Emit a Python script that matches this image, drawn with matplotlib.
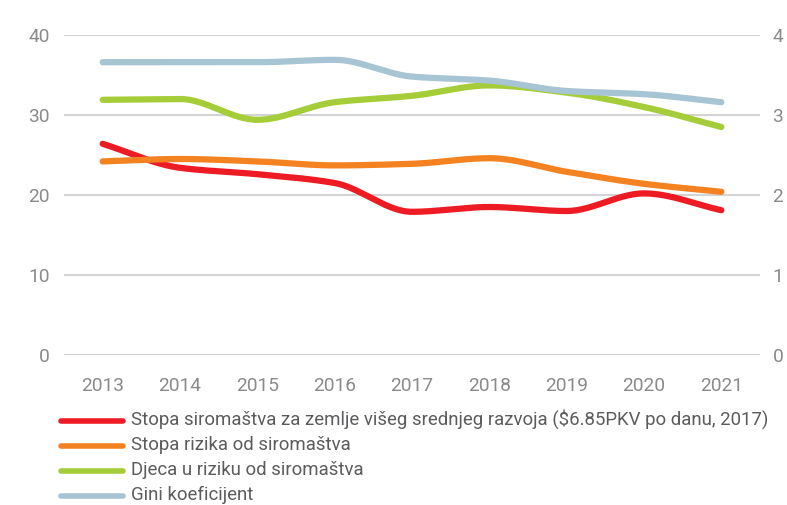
import numpy as np
import matplotlib
matplotlib.use("Agg")
import matplotlib.pyplot as plt
from matplotlib.lines import Line2D

plt.rcParams['font.family'] = ['Roboto', 'DejaVu Sans']

years = [2013, 2014, 2015, 2016, 2017, 2018, 2019, 2020, 2021]
poverty_685 = [26.4, 23.4, 22.6, 21.5, 17.9, 18.5, 18.0, 20.2, 18.1]
risk_poverty = [24.2, 24.5, 24.2, 23.7, 23.9, 24.6, 22.9, 21.4, 20.4]
children_risk = [31.9, 32.0, 29.4, 31.6, 32.4, 33.7, 32.8, 31.0, 28.5]
gini = [36.6, 36.6, 36.6, 36.9, 34.8, 34.3, 33.0, 32.6, 31.6]

labels = ["Stopa siromaštva za zemlje višeg srednjeg razvoja ($6.85PKV po danu, 2017)",
          "Stopa rizika od siromaštva",
          "Djeca u riziku od siromaštva",
          "Gini koeficijent"]
series = [poverty_685, risk_poverty, children_risk, gini]
colors = ["#ED1C24", "#F58220", "#A5CD39", "#A7C4D4"]
left_ticks = [0, 10, 20, 30, 40]
right_ticks = [0, 1, 2, 3, 4]


def monotone(x, y, n=40):
    x = np.asarray(x, float); y = np.asarray(y, float)
    h = np.diff(x); d = np.diff(y) / h
    m = np.zeros_like(y)
    m[0] = d[0]; m[-1] = d[-1]
    for i in range(1, len(y) - 1):
        if d[i - 1] * d[i] <= 0:
            m[i] = 0
        else:
            w1 = 2 * h[i] + h[i - 1]; w2 = h[i] + 2 * h[i - 1]
            m[i] = (w1 + w2) / (w1 / d[i - 1] + w2 / d[i])
    xs, ys = [], []
    for i in range(len(x) - 1):
        t = np.linspace(0, 1, n, endpoint=(i == len(x) - 2))
        h00 = 2 * t**3 - 3 * t**2 + 1; h10 = t**3 - 2 * t**2 + t
        h01 = -2 * t**3 + 3 * t**2; h11 = t**3 - t**2
        xs.append(x[i] + t * h[i])
        ys.append(h00 * y[i] + h10 * h[i] * m[i] + h01 * y[i + 1] + h11 * h[i] * m[i + 1])
    return np.concatenate(xs), np.concatenate(ys)


W, H = 787, 505
fig = plt.figure(figsize=(W / 100, H / 100), dpi=100)
ax = fig.add_axes([64 / W, 1 - 355 / H, (760 - 64) / W, 320 / H])
ax.set_xlim(2012.5, 2021.5)
ax.set_ylim(0, 40)
ax.set_yticks(left_ticks)
ax.set_xticks(years)
ax.grid(axis='y', color='#d4d4d4', linewidth=1.5)
ax.set_axisbelow(True)
for s in ax.spines.values():
    s.set_visible(False)
ax.tick_params(axis='both', length=0, labelsize=13.8, labelcolor='#8a8a8a')
ax.tick_params(axis='x', pad=16)
ax.tick_params(axis='y', pad=10)

for vals, c in zip(series, colors):
    xs, ys = monotone(years, vals)
    ax.plot(xs, ys, color=c, linewidth=4.5, solid_capstyle='round', zorder=3)

ax2 = ax.twinx()
ax2.set_ylim(0, 4)
ax2.set_yticks(right_ticks)
for s in ax2.spines.values():
    s.set_visible(False)
ax2.tick_params(axis='y', length=0, labelsize=13.8, labelcolor='#8a8a8a', pad=9)

for i, (lab, c) in enumerate(zip(labels, colors)):
    yp = 420.5 + 25.3 * i
    fig.add_artist(Line2D([61 / W, 123 / W], [1 - yp / H, 1 - yp / H], color=c,
                          linewidth=4, solid_capstyle='round', transform=fig.transFigure))
    fig.text(131 / W, 1 - (yp - 1) / H, lab, fontsize=13.4, color='#5c5c5e', va='center', ha='left')

fig.savefig("out.png", dpi=100)
